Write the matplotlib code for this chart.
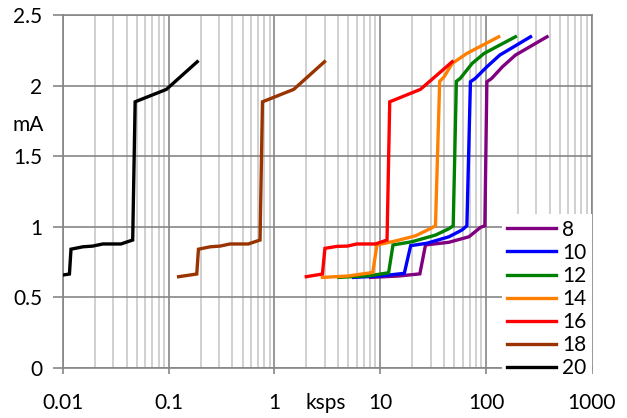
import matplotlib
matplotlib.use('Agg')
import matplotlib.pyplot as plt
from matplotlib.ticker import LogLocator, FixedLocator, NullFormatter

# Current (mA) vs sample rate (ksps) per resolution
labels = ['8', '10', '12', '14', '16', '18', '20']
colors = ['#800080', '#0000FF', '#008000', '#FF8000', '#FF0000', '#993300', '#000000']

x8 = [8.1, 15, 23.7, 26.8, 44.6, 69, 89, 97.6, 102, 113, 143, 190, 378]
y8 = [0.64, 0.65, 0.665, 0.87, 0.889, 0.928, 0.995, 1.006, 2.027, 2.05, 2.133, 2.216, 2.346]

x10 = [5.6, 10, 16.9, 19.4, 27.6, 44.6, 59.3, 66, 71.3, 79, 102, 135, 264]
y10 = [0.64, 0.65, 0.669, 0.865, 0.882, 0.928, 0.976, 1.006, 2.027, 2.05, 2.133, 2.216, 2.346]

x12 = [4.05, 8, 12.0, 13.2, 20, 33.3, 44.6, 49, 52.5, 57, 74, 96, 190]
y12 = [0.64, 0.652, 0.673, 0.87, 0.893, 0.94, 0.985, 1.006, 2.03, 2.05, 2.157, 2.228, 2.346]

x14 = [2.84, 5.0, 8.5, 9.3, 13.9, 21.6, 29.6, 33.3, 36.5, 40, 48, 66, 132]
y14 = [0.64, 0.65, 0.675, 0.87, 0.898, 0.935, 0.985, 1.006, 2.03, 2.06, 2.157, 2.228, 2.346]

x16 = [2.0, 2.84, 3.0, 3.9, 4.9, 6.0, 9.0, 11.6, 12.3, 24, 48]
y16 = [0.645, 0.664, 0.846, 0.86, 0.862, 0.877, 0.877, 0.905, 1.885, 1.973, 2.169]

x18 = [0.124, 0.184, 0.191, 0.247, 0.306, 0.38, 0.565, 0.73, 0.77, 1.52, 2.97]
y18 = [0.645, 0.664, 0.84, 0.857, 0.862, 0.877, 0.877, 0.905, 1.885, 1.973, 2.169]

x20 = [0.01, 0.0115, 0.0119, 0.0154, 0.0191, 0.0238, 0.0353, 0.0456, 0.0481, 0.095, 0.186]
y20 = [0.657, 0.664, 0.84, 0.857, 0.862, 0.877, 0.877, 0.905, 1.885, 1.973, 2.169]

xs = [x8, x10, x12, x14, x16, x18, x20]
ys = [y8, y10, y12, y14, y16, y18, y20]

x_ticks = [0.01, 0.1, 1, 10, 100, 1000]
x_ticklabels = ['0.01', '0.1', '1', '10', '100', '1000']
y_ticks = [0, 0.5, 1, 1.5, 2, 2.5]
y_ticklabels = ['0', '0.5', '1', '1.5', '2', '2.5']

plt.rcParams['font.family'] = ['Lato', 'DejaVu Sans']
plt.rcParams['font.size'] = 15

fig = plt.figure(figsize=(6.27, 4.18), dpi=100)
ax = fig.add_axes([0.1005, 0.1204, 0.8432, 0.8436])

for x, y, c, lab in zip(xs, ys, colors, labels):
    ax.plot(x, y, color=c, lw=2.4, label=lab, zorder=3, solid_joinstyle='miter')

ax.set_xscale('log')
ax.set_xlim(0.01, 1000)
ax.set_ylim(0, 2.5)
ax.xaxis.set_major_locator(FixedLocator(x_ticks))
ax.set_xticklabels(x_ticklabels)
ax.xaxis.set_minor_locator(LogLocator(base=10, subs=range(2, 10), numticks=20))
ax.xaxis.set_minor_formatter(NullFormatter())
ax.set_yticks(y_ticks)
ax.set_yticklabels(y_ticklabels)

ax.grid(which='major', color='#868686', lw=1.2, zorder=0)
ax.grid(which='minor', axis='x', color='#c8c8c8', lw=1.2, zorder=0)
ax.set_axisbelow(True)

for s in ax.spines.values():
    s.set_color('#868686')
    s.set_linewidth(1.2)
ax.tick_params(axis='x', which='major', length=4, width=1.2, color='#868686', pad=14)
ax.tick_params(axis='x', which='minor', length=0)
ax.tick_params(axis='y', which='major', length=7, width=1.2, color='#868686', pad=8)

fig.text(12 / 627, 1 - 125 / 418, 'mA', ha='left', va='center', fontsize=15)
fig.text(326 / 627, 1 - 403 / 418, 'ksps', ha='center', va='center', fontsize=15)

leg = ax.legend(loc='lower right', bbox_to_anchor=(1.0, -0.045), frameon=True,
                fancybox=False, framealpha=1, edgecolor='none', facecolor='white',
                handlelength=2.35, handletextpad=0.3, labelspacing=0.15,
                borderaxespad=0, borderpad=0.25, fontsize=15)
leg.set_zorder(5)

fig.savefig('out.png', dpi=100)
